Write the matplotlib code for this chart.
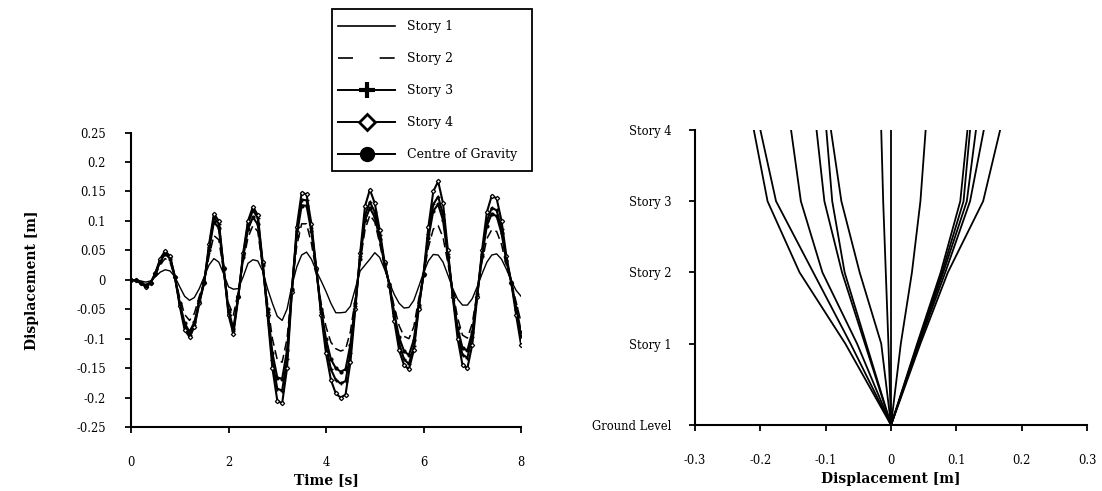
import matplotlib
matplotlib.use("Agg")
import matplotlib.pyplot as plt
from matplotlib.lines import Line2D
from matplotlib.patches import Rectangle
import numpy as np

plt.rcParams['font.family'] = ['DejaVu Serif']
plt.rcParams['axes.unicode_minus'] = False

# ---------------- time histories (sampled every 0.1 s) ----------------
time_s = np.linspace(0.0, 8.0, 81)

story1 = [0.000, 0.000, -0.002, -0.004, -0.002, 0.005, 0.013, 0.017, 0.015, 0.005,
          -0.012, -0.028, -0.035, -0.030, -0.015, 0.005, 0.025, 0.036, 0.030, 0.010,
          -0.012, -0.016, -0.015, 0.005, 0.028, 0.034, 0.032, 0.015, -0.015, -0.040,
          -0.062, -0.069, -0.050, -0.010, 0.022, 0.042, 0.047, 0.035, 0.015, -0.002,
          -0.020, -0.040, -0.056, -0.056, -0.055, -0.045, -0.015, 0.015, 0.025, 0.035,
          0.046, 0.038, 0.018, -0.005, -0.025, -0.040, -0.048, -0.047, -0.035, -0.012,
          0.012, 0.032, 0.043, 0.042, 0.030, 0.008, -0.015, -0.033, -0.043, -0.043,
          -0.032, -0.012, 0.010, 0.030, 0.042, 0.044, 0.035, 0.018, -0.002, -0.018,
          -0.028]

story2 = [0.000, -0.001, -0.004, -0.008, -0.004, 0.008, 0.026, 0.036, 0.030, 0.004,
          -0.031, -0.059, -0.069, -0.057, -0.028, -0.003, 0.040, 0.075, 0.068, 0.014,
          -0.040, -0.060, -0.020, 0.030, 0.072, 0.092, 0.082, 0.021, -0.040, -0.100,
          -0.136, -0.140, -0.100, -0.014, 0.058, 0.095, 0.095, 0.062, 0.013, -0.040,
          -0.080, -0.106, -0.117, -0.121, -0.118, -0.088, -0.032, 0.030, 0.085, 0.110,
          0.098, 0.062, 0.022, -0.007, -0.046, -0.078, -0.096, -0.100, -0.080, -0.033,
          0.007, 0.055, 0.086, 0.092, 0.072, 0.028, -0.019, -0.065, -0.094, -0.099,
          -0.074, -0.021, 0.031, 0.070, 0.085, 0.082, 0.060, 0.024, -0.003, -0.038,
          -0.072]

story3 = [0.000, -0.001, -0.005, -0.011, -0.006, 0.011, 0.033, 0.046, 0.038, 0.005,
          -0.042, -0.080, -0.093, -0.077, -0.038, -0.004, 0.055, 0.106, 0.095, 0.020,
          -0.055, -0.087, -0.028, 0.042, 0.095, 0.118, 0.105, 0.028, -0.055, -0.137,
          -0.185, -0.188, -0.135, -0.018, 0.082, 0.136, 0.135, 0.088, 0.018, -0.055,
          -0.113, -0.152, -0.170, -0.176, -0.172, -0.125, -0.045, 0.040, 0.110, 0.132,
          0.115, 0.076, 0.028, -0.008, -0.062, -0.108, -0.135, -0.143, -0.113, -0.047,
          0.009, 0.078, 0.128, 0.141, 0.111, 0.043, -0.026, -0.090, -0.128, -0.132,
          -0.097, -0.027, 0.043, 0.100, 0.122, 0.118, 0.086, 0.034, -0.004, -0.052,
          -0.095]

story4 = [0.000, -0.001, -0.006, -0.012, -0.006, 0.012, 0.036, 0.049, 0.040, 0.005,
          -0.045, -0.085, -0.097, -0.080, -0.040, -0.005, 0.060, 0.112, 0.100, 0.020,
          -0.060, -0.092, -0.030, 0.045, 0.100, 0.124, 0.110, 0.030, -0.060, -0.150,
          -0.205, -0.210, -0.150, -0.020, 0.090, 0.148, 0.145, 0.095, 0.020, -0.060,
          -0.125, -0.170, -0.193, -0.200, -0.195, -0.140, -0.050, 0.045, 0.125, 0.153,
          0.130, 0.085, 0.030, -0.010, -0.070, -0.120, -0.145, -0.152, -0.120, -0.050,
          0.010, 0.090, 0.150, 0.167, 0.130, 0.050, -0.030, -0.100, -0.145, -0.150,
          -0.110, -0.030, 0.050, 0.115, 0.143, 0.138, 0.100, 0.040, -0.005, -0.060,
          -0.110]

centre_of_gravity = [0.000, -0.001, -0.005, -0.010, -0.005, 0.010, 0.031, 0.044, 0.036, 0.004,
                     -0.039, -0.074, -0.088, -0.072, -0.036, -0.004, 0.050, 0.098, 0.088, 0.018,
                     -0.052, -0.083, -0.027, 0.038, 0.086, 0.106, 0.094, 0.025, -0.050, -0.124,
                     -0.166, -0.168, -0.120, -0.016, 0.075, 0.126, 0.126, 0.082, 0.017, -0.050,
                     -0.101, -0.135, -0.150, -0.156, -0.152, -0.110, -0.040, 0.036, 0.101, 0.122,
                     0.106, 0.070, 0.026, -0.008, -0.057, -0.098, -0.121, -0.128, -0.102, -0.042,
                     0.008, 0.071, 0.117, 0.128, 0.101, 0.039, -0.024, -0.082, -0.116, -0.120,
                     -0.088, -0.025, 0.040, 0.092, 0.112, 0.108, 0.079, 0.032, -0.004, -0.048,
                     -0.088]

series_labels = ["Story 1", "Story 2", "Story 3", "Story 4", "Centre of Gravity"]

time_ticks = [0, 2, 4, 6, 8]
disp_ticks = [0.25, 0.2, 0.15, 0.1, 0.05, 0, -0.05, -0.1, -0.15, -0.2, -0.25]
disp_tick_labels = ["0.25", "0.2", "0.15", "0.1", "0.05", "0", "-0.05", "-0.1",
                    "-0.15", "-0.2", "-0.25"]

# ---------------- deflected shapes over the height ----------------
level_heights = [0.0, 4.0, 7.5, 11.0, 14.5]
level_labels = ["Ground Level", "Story 1", "Story 2", "Story 3", "Story 4"]

profile_displacements = [
    [0.0, -0.070, -0.140, -0.189, -0.210],
    [0.0, -0.062, -0.119, -0.176, -0.200],
    [0.0, -0.052, -0.105, -0.138, -0.153],
    [0.0, -0.040, -0.075, -0.102, -0.114],
    [0.0, -0.038, -0.071, -0.090, -0.099],
    [0.0, -0.015, -0.048, -0.076, -0.092],
    [0.0, -0.004, -0.008, -0.012, -0.015],
    [0.0, 0.000, 0.000, 0.000, 0.000],
    [0.0, 0.015, 0.032, 0.045, 0.053],
    [0.0, 0.040, 0.076, 0.106, 0.117],
    [0.0, 0.041, 0.078, 0.111, 0.121],
    [0.0, 0.042, 0.080, 0.116, 0.130],
    [0.0, 0.043, 0.083, 0.121, 0.142],
    [0.0, 0.045, 0.087, 0.141, 0.167],
]
profile_ticks = [-0.3, -0.2, -0.1, 0, 0.1, 0.2, 0.3]
profile_tick_labels = ["-0.3", "-0.2", "-0.1", "0", "0.1", "0.2", "0.3"]

# ---------------- figure ----------------
W, H = 1102, 491
fig = plt.figure(figsize=(W / 100, H / 100), dpi=100)
ax1 = fig.add_axes([0.1189, 0.1303, 0.3539, 0.5998])
ax2 = fig.add_axes([0.6307, 0.1344, 0.3557, 0.6008])

ink = "black"
ax1.plot(time_s, story1, color=ink, lw=1.0)
ax1.plot(time_s, story2, color=ink, lw=1.1, dashes=(6, 3))
ax1.plot(time_s, story3, color=ink, lw=1.5, marker="+", ms=3.5, mew=1.0)
ax1.plot(time_s, story4, color=ink, lw=1.5, marker="D", ms=2.2, mew=0.9,
         mfc="white", mec=ink)
ax1.plot(time_s, centre_of_gravity, color=ink, lw=1.5, marker="o", ms=2.0)

ax1.set_xlim(0, 8)
ax1.set_ylim(-0.25, 0.25)
ax1.set_xticks(time_ticks)
ax1.set_xticklabels([str(t) for t in time_ticks])
ax1.set_yticks(disp_ticks)
ax1.set_yticklabels(disp_tick_labels)

for x_vals in profile_displacements:
    ax2.plot(x_vals, level_heights, color=ink, lw=1.3)
ax2.set_xlim(-0.3, 0.3)
ax2.set_ylim(0, 14.5)
ax2.set_xticks(profile_ticks)
ax2.set_xticklabels(profile_tick_labels)
ax2.set_yticks(level_heights)
ax2.set_yticklabels(level_labels)

for ax in (ax1, ax2):
    for side in ("top", "right"):
        ax.spines[side].set_visible(False)
    for side in ("left", "bottom"):
        ax.spines[side].set_linewidth(1.5)
    ax.tick_params(direction="out", length=4, width=1.3, labelsize=8.3)
    ax.tick_params(axis="x", pad=17)

ax1.tick_params(axis="y", pad=14)
ax2.tick_params(axis="y", pad=13)

label_font = dict(fontsize=10, fontweight="bold")
ax1.set_xlabel("Time [s]", **label_font)
ax1.xaxis.set_label_coords(0.5, -0.155)
ax1.set_ylabel("Displacement [m]", **label_font)
ax1.yaxis.set_label_coords(-0.235, 0.5)
ax2.set_xlabel("Displacement [m]", **label_font)
ax2.xaxis.set_label_coords(0.5, -0.158)

# legend with enlarged symbols, inside a plain rectangular frame
handles = [
    Line2D([], [], color=ink, lw=1.2),
    Line2D([], [], color=ink, lw=1.2, dashes=(9, 16)),
    Line2D([], [], color=ink, lw=1.4, marker="+", ms=11, mew=3),
    Line2D([], [], color=ink, lw=1.4, marker="D", ms=8, mew=2, mfc="white"),
    Line2D([], [], color=ink, lw=1.4, marker="o", ms=10),
]
leg = ax1.legend(handles, series_labels, loc="upper left",
                 bbox_to_anchor=(332 / W, 1 - 14 / H), bbox_transform=fig.transFigure,
                 fontsize=9, frameon=False,
                 handlelength=4.55, handletextpad=0.95, labelspacing=1.52,
                 borderpad=0.5, borderaxespad=0.0)
fig.patches.append(Rectangle((332 / W, 1 - 171 / H), 200 / W, 162 / H,
                             transform=fig.transFigure, fill=False,
                             edgecolor=ink, linewidth=1.3))

fig.savefig("out.png", dpi=100)
